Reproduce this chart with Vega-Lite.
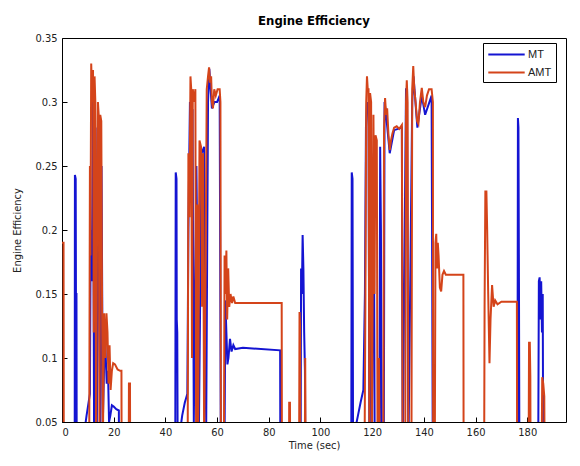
{
"$schema": "https://vega.github.io/schema/vega-lite/v6.json",
"width": 504, "height": 384,
"autosize": "none",
"padding": {"left": 62, "top": 38, "right": 14, "bottom": 44},
"background": "white",
"title": {"text": "Engine Efficiency", "font": "Liberation Sans Narrow, DejaVu Sans Condensed, sans-serif", "fontSize": 13, "fontWeight": "bold", "offset": 4, "anchor": "middle", "color": "black"},
"config": {
  "view": {"stroke": "black", "strokeWidth": 1},
  "axis": {"domain": false, "grid": false, "tickColor": "black", "tickSize": -5, "labelColor": "#222", "labelFont": "Liberation Sans Narrow, DejaVu Sans Condensed, sans-serif", "labelFontSize": 11, "titleFont": "Liberation Sans Narrow, DejaVu Sans Condensed, sans-serif", "titleFontSize": 11, "titleFontWeight": "normal", "titleColor": "#222"}
},
"data": {"values": [
{"s":"MT","t":0,"e":0},{"s":"MT","t":4.9,"e":0},{"s":"MT","t":5.0,"e":0.243},{"s":"MT","t":5.3,"e":0.24},{"s":"MT","t":5.4,"e":0.15},{"s":"MT","t":5.6,"e":0.15},{"s":"MT","t":5.7,"e":0},{"s":"MT","t":8.5,"e":0.04},{"s":"MT","t":9.5,"e":0.055},{"s":"MT","t":10.8,"e":0.072},{"s":"MT","t":11.1,"e":0.2},{"s":"MT","t":11.5,"e":0.16},{"s":"MT","t":12.0,"e":0.3},{"s":"MT","t":12.4,"e":0.05},{"s":"MT","t":13.0,"e":0.28},{"s":"MT","t":13.5,"e":0.05},{"s":"MT","t":14.2,"e":0.27},{"s":"MT","t":14.8,"e":0.05},{"s":"MT","t":15.3,"e":0.25},{"s":"MT","t":15.8,"e":0.05},{"s":"MT","t":16.6,"e":0.12},{"s":"MT","t":17.3,"e":0.08},{"s":"MT","t":17.8,"e":0.09},{"s":"MT","t":18.2,"e":0.05},{"s":"MT","t":18.7,"e":0.055},{"s":"MT","t":19.3,"e":0.063},{"s":"MT","t":20.0,"e":0.062},{"s":"MT","t":21.0,"e":0.06},{"s":"MT","t":22.0,"e":0.059},{"s":"MT","t":22.1,"e":0},
{"s":"MT","t":43.8,"e":0},{"s":"MT","t":44.0,"e":0.245},{"s":"MT","t":44.3,"e":0.24},{"s":"MT","t":44.4,"e":0.13},{"s":"MT","t":44.6,"e":0.12},{"s":"MT","t":44.8,"e":0},{"s":"MT","t":45.5,"e":0.04},{"s":"MT","t":46.5,"e":0.055},{"s":"MT","t":47.5,"e":0.065},{"s":"MT","t":48.5,"e":0.072},{"s":"MT","t":48.9,"e":0.2},{"s":"MT","t":49.5,"e":0.3},{"s":"MT","t":50.0,"e":0.295},{"s":"MT","t":50.5,"e":0.294},{"s":"MT","t":51.0,"e":0.05},{"s":"MT","t":52.0,"e":0.25},{"s":"MT","t":53.0,"e":0.05},{"s":"MT","t":54.0,"e":0.26},{"s":"MT","t":55.0,"e":0.265},{"s":"MT","t":55.3,"e":0.12},{"s":"MT","t":55.8,"e":0.05},{"s":"MT","t":56.5,"e":0.3},{"s":"MT","t":57.0,"e":0.326},{"s":"MT","t":57.5,"e":0.31},{"s":"MT","t":58.0,"e":0.295},{"s":"MT","t":59.0,"e":0.3},{"s":"MT","t":60.0,"e":0.3},{"s":"MT","t":61.0,"e":0.305},{"s":"MT","t":61.5,"e":0},{"s":"MT","t":62.8,"e":0},{"s":"MT","t":63.2,"e":0.145},{"s":"MT","t":63.6,"e":0.12},{"s":"MT","t":64.0,"e":0.095},{"s":"MT","t":64.4,"e":0.1},{"s":"MT","t":65.0,"e":0.115},{"s":"MT","t":65.6,"e":0.105},{"s":"MT","t":66.3,"e":0.11},{"s":"MT","t":67.0,"e":0.107},{"s":"MT","t":70.0,"e":0.108},{"s":"MT","t":84.4,"e":0.106},{"s":"MT","t":84.5,"e":0},
{"s":"MT","t":92.3,"e":0},{"s":"MT","t":92.5,"e":0.17},{"s":"MT","t":92.8,"e":0.15},{"s":"MT","t":93.1,"e":0.196},{"s":"MT","t":93.4,"e":0.17},{"s":"MT","t":93.7,"e":0.12},{"s":"MT","t":94.0,"e":0.09},{"s":"MT","t":94.2,"e":0},
{"s":"MT","t":111.9,"e":0},{"s":"MT","t":112.1,"e":0.245},{"s":"MT","t":112.4,"e":0.24},{"s":"MT","t":112.6,"e":0.045},{"s":"MT","t":113.5,"e":0.045},{"s":"MT","t":114.5,"e":0.055},{"s":"MT","t":115.5,"e":0.065},{"s":"MT","t":116.6,"e":0.075},{"s":"MT","t":117.2,"e":0.15},{"s":"MT","t":117.6,"e":0.28},{"s":"MT","t":118.0,"e":0.3},{"s":"MT","t":118.3,"e":0.294},{"s":"MT","t":118.6,"e":0.295},{"s":"MT","t":118.9,"e":0.05},{"s":"MT","t":119.2,"e":0.29},{"s":"MT","t":119.8,"e":0.02},{"s":"MT","t":120.6,"e":0.26},{"s":"MT","t":121.0,"e":0.02},{"s":"MT","t":122.8,"e":0.02},{"s":"MT","t":123.1,"e":0.265},{"s":"MT","t":123.4,"e":0.2},{"s":"MT","t":123.7,"e":0.02},{"s":"MT","t":124.5,"e":0.02},{"s":"MT","t":124.8,"e":0.3},{"s":"MT","t":125.4,"e":0.29},{"s":"MT","t":126.8,"e":0.26},{"s":"MT","t":128.5,"e":0.278},{"s":"MT","t":131.5,"e":0.28},{"s":"MT","t":131.8,"e":0.02},{"s":"MT","t":133.1,"e":0.31},{"s":"MT","t":133.5,"e":0.31},{"s":"MT","t":134.0,"e":0.02},{"s":"MT","t":135.5,"e":0.3},{"s":"MT","t":136.0,"e":0.32},{"s":"MT","t":137.5,"e":0.28},{"s":"MT","t":139.2,"e":0.305},{"s":"MT","t":140.5,"e":0.29},{"s":"MT","t":143.0,"e":0.305},{"s":"MT","t":143.5,"e":0},
{"s":"MT","t":176.2,"e":0},{"s":"MT","t":176.4,"e":0.2875},{"s":"MT","t":176.6,"e":0.28},{"s":"MT","t":176.8,"e":0.16},{"s":"MT","t":177.0,"e":0},
{"s":"MT","t":184.2,"e":0},{"s":"MT","t":184.5,"e":0.16},{"s":"MT","t":184.8,"e":0.163},{"s":"MT","t":185.1,"e":0.13},{"s":"MT","t":185.4,"e":0.16},{"s":"MT","t":185.7,"e":0.12},{"s":"MT","t":186.0,"e":0.15},{"s":"MT","t":186.2,"e":0},{"s":"MT","t":187.0,"e":0},
{"s":"AMT","t":0,"e":0.19},{"s":"AMT","t":0.6,"e":0.19},{"s":"AMT","t":0.7,"e":0},{"s":"AMT","t":10.5,"e":0},{"s":"AMT","t":10.8,"e":0.25},{"s":"AMT","t":11.0,"e":0.18},{"s":"AMT","t":11.3,"e":0.33},{"s":"AMT","t":11.7,"e":0.3},{"s":"AMT","t":12.0,"e":0.325},{"s":"AMT","t":12.3,"e":0.12},{"s":"AMT","t":12.6,"e":0.32},{"s":"AMT","t":12.9,"e":0.3},{"s":"AMT","t":13.2,"e":0.03},{"s":"AMT","t":13.6,"e":0.22},{"s":"AMT","t":13.9,"e":0.3},{"s":"AMT","t":14.2,"e":0.29},{"s":"AMT","t":14.5,"e":0.04},{"s":"AMT","t":14.8,"e":0.29},{"s":"AMT","t":15.2,"e":0.285},{"s":"AMT","t":15.5,"e":0.14},{"s":"AMT","t":15.8,"e":0.03},{"s":"AMT","t":16.3,"e":0.135},{"s":"AMT","t":16.8,"e":0.1},{"s":"AMT","t":17.2,"e":0.135},{"s":"AMT","t":17.6,"e":0.12},{"s":"AMT","t":18.0,"e":0.08},{"s":"AMT","t":18.4,"e":0.11},{"s":"AMT","t":18.8,"e":0.075},{"s":"AMT","t":19.3,"e":0.09},{"s":"AMT","t":19.8,"e":0.096},{"s":"AMT","t":20.5,"e":0.095},{"s":"AMT","t":21.5,"e":0.091},{"s":"AMT","t":22.5,"e":0.09},{"s":"AMT","t":23.0,"e":0.09},{"s":"AMT","t":23.1,"e":0},{"s":"AMT","t":25.8,"e":0},{"s":"AMT","t":25.9,"e":0.08},{"s":"AMT","t":26.3,"e":0.08},{"s":"AMT","t":26.4,"e":0},
{"s":"AMT","t":48.6,"e":0},{"s":"AMT","t":48.9,"e":0.26},{"s":"AMT","t":49.3,"e":0.21},{"s":"AMT","t":49.7,"e":0.32},{"s":"AMT","t":50.0,"e":0.31},{"s":"AMT","t":50.3,"e":0.1},{"s":"AMT","t":50.6,"e":0.31},{"s":"AMT","t":51.2,"e":0.3},{"s":"AMT","t":51.6,"e":0.31},{"s":"AMT","t":51.9,"e":0.03},{"s":"AMT","t":52.3,"e":0.22},{"s":"AMT","t":52.7,"e":0.05},{"s":"AMT","t":53.2,"e":0.27},{"s":"AMT","t":53.8,"e":0.265},{"s":"AMT","t":54.2,"e":0.14},{"s":"AMT","t":54.6,"e":0.26},{"s":"AMT","t":55.0,"e":0.03},{"s":"AMT","t":55.6,"e":0.18},{"s":"AMT","t":56.0,"e":0.31},{"s":"AMT","t":56.5,"e":0.32},{"s":"AMT","t":56.9,"e":0.327},{"s":"AMT","t":57.3,"e":0.315},{"s":"AMT","t":57.7,"e":0.32},{"s":"AMT","t":58.0,"e":0.3},{"s":"AMT","t":58.4,"e":0.295},{"s":"AMT","t":58.9,"e":0.31},{"s":"AMT","t":59.5,"e":0.305},{"s":"AMT","t":60.2,"e":0.31},{"s":"AMT","t":61.0,"e":0.31},{"s":"AMT","t":61.3,"e":0.3},{"s":"AMT","t":61.5,"e":0},{"s":"AMT","t":62.6,"e":0},{"s":"AMT","t":62.9,"e":0.18},{"s":"AMT","t":63.3,"e":0.15},{"s":"AMT","t":63.6,"e":0.184},{"s":"AMT","t":63.9,"e":0.13},{"s":"AMT","t":64.3,"e":0.17},{"s":"AMT","t":64.7,"e":0.14},{"s":"AMT","t":65.2,"e":0.15},{"s":"AMT","t":65.8,"e":0.143},{"s":"AMT","t":66.3,"e":0.148},{"s":"AMT","t":67.0,"e":0.143},{"s":"AMT","t":85.0,"e":0.143},{"s":"AMT","t":85.1,"e":0},
{"s":"AMT","t":87.8,"e":0},{"s":"AMT","t":87.9,"e":0.065},{"s":"AMT","t":88.2,"e":0.065},{"s":"AMT","t":88.3,"e":0},{"s":"AMT","t":91.7,"e":0},{"s":"AMT","t":91.9,"e":0.136},{"s":"AMT","t":92.1,"e":0.125},{"s":"AMT","t":92.2,"e":0},{"s":"AMT","t":93.9,"e":0},{"s":"AMT","t":94.1,"e":0.1},{"s":"AMT","t":94.3,"e":0},
{"s":"AMT","t":117.0,"e":0},{"s":"AMT","t":117.4,"e":0.15},{"s":"AMT","t":117.7,"e":0.3},{"s":"AMT","t":118.0,"e":0.32},{"s":"AMT","t":118.3,"e":0.31},{"s":"AMT","t":118.6,"e":0.31},{"s":"AMT","t":118.9,"e":0.05},{"s":"AMT","t":119.2,"e":0.307},{"s":"AMT","t":119.6,"e":0.3},{"s":"AMT","t":119.9,"e":0.02},{"s":"AMT","t":120.5,"e":0.29},{"s":"AMT","t":120.9,"e":0.15},{"s":"AMT","t":121.3,"e":0.274},{"s":"AMT","t":121.8,"e":0.27},{"s":"AMT","t":122.1,"e":0.02},{"s":"AMT","t":122.6,"e":0.1},{"s":"AMT","t":123.0,"e":0.02},{"s":"AMT","t":124.3,"e":0.02},{"s":"AMT","t":124.6,"e":0.28},{"s":"AMT","t":125.0,"e":0.303},{"s":"AMT","t":125.4,"e":0.29},{"s":"AMT","t":125.8,"e":0.295},{"s":"AMT","t":126.3,"e":0.275},{"s":"AMT","t":126.8,"e":0.2625},{"s":"AMT","t":127.3,"e":0.27},{"s":"AMT","t":127.8,"e":0.275},{"s":"AMT","t":128.5,"e":0.28},{"s":"AMT","t":129.5,"e":0.281},{"s":"AMT","t":130.5,"e":0.279},{"s":"AMT","t":131.5,"e":0.282},{"s":"AMT","t":131.8,"e":0.02},{"s":"AMT","t":132.8,"e":0.02},{"s":"AMT","t":133.1,"e":0.3},{"s":"AMT","t":133.4,"e":0.317},{"s":"AMT","t":133.7,"e":0.3},{"s":"AMT","t":134.0,"e":0.02},{"s":"AMT","t":135.2,"e":0.02},{"s":"AMT","t":135.5,"e":0.31},{"s":"AMT","t":135.9,"e":0.328},{"s":"AMT","t":136.3,"e":0.31},{"s":"AMT","t":136.8,"e":0.3},{"s":"AMT","t":137.4,"e":0.285},{"s":"AMT","t":137.9,"e":0.283},{"s":"AMT","t":138.5,"e":0.3},{"s":"AMT","t":139.2,"e":0.311},{"s":"AMT","t":139.8,"e":0.3},{"s":"AMT","t":140.5,"e":0.296},{"s":"AMT","t":141.2,"e":0.305},{"s":"AMT","t":142.0,"e":0.31},{"s":"AMT","t":143.0,"e":0.31},{"s":"AMT","t":143.5,"e":0.3},{"s":"AMT","t":143.6,"e":0},{"s":"AMT","t":144.2,"e":0},{"s":"AMT","t":144.5,"e":0.19},{"s":"AMT","t":144.8,"e":0.197},{"s":"AMT","t":145.1,"e":0.17},{"s":"AMT","t":145.4,"e":0.19},{"s":"AMT","t":145.7,"e":0.18},{"s":"AMT","t":146.2,"e":0.155},{"s":"AMT","t":146.7,"e":0.152},{"s":"AMT","t":147.2,"e":0.165},{"s":"AMT","t":147.8,"e":0.168},{"s":"AMT","t":148.5,"e":0.165},{"s":"AMT","t":155.3,"e":0.165},{"s":"AMT","t":155.4,"e":0},
{"s":"AMT","t":163.3,"e":0},{"s":"AMT","t":163.5,"e":0.14},{"s":"AMT","t":163.8,"e":0.23},{"s":"AMT","t":164.2,"e":0.23},{"s":"AMT","t":164.5,"e":0.2},{"s":"AMT","t":164.9,"e":0.15},{"s":"AMT","t":165.4,"e":0.096},{"s":"AMT","t":165.8,"e":0.13},{"s":"AMT","t":166.4,"e":0.157},{"s":"AMT","t":167.0,"e":0.14},{"s":"AMT","t":167.6,"e":0.145},{"s":"AMT","t":168.5,"e":0.142},{"s":"AMT","t":170.0,"e":0.144},{"s":"AMT","t":176.0,"e":0.144},{"s":"AMT","t":176.1,"e":0},
{"s":"AMT","t":180.5,"e":0},{"s":"AMT","t":180.7,"e":0.112},{"s":"AMT","t":181.0,"e":0.112},{"s":"AMT","t":181.2,"e":0.085},{"s":"AMT","t":181.3,"e":0},{"s":"AMT","t":185.5,"e":0},{"s":"AMT","t":185.8,"e":0.085},{"s":"AMT","t":186.2,"e":0.08},{"s":"AMT","t":186.6,"e":0.07},{"s":"AMT","t":186.8,"e":0}
]},
"encoding": {
  "x": {"field": "t", "type": "quantitative", "scale": {"domain": [0, 195], "nice": false, "zero": false},
        "axis": {"values": [0,20,40,60,80,100,120,140,160,180], "title": "Time (sec)", "labelPadding": 9, "titlePadding": 2}},
  "y": {"field": "e", "type": "quantitative", "scale": {"domain": [0.05, 0.35], "nice": false, "zero": false},
        "axis": {"values": [0.05,0.1,0.15,0.2,0.25,0.3,0.35], "format": ".2~f", "title": "Engine Efficiency", "labelPadding": 10, "titlePadding": 12}},
  "color": {"field": "s", "type": "nominal", "scale": {"domain": ["MT","AMT"], "range": ["#1414d2","#d4441a"]},
            "legend": {"orient": "none", "legendX": 421, "legendY": 5, "title": null, "strokeColor": "black", "fillColor": "white", "padding": 4, "symbolType": "M-2.8,0H2.8", "symbolSize": 169, "symbolOffset": 12, "symbolStrokeWidth": 2, "labelFontSize": 11, "labelFont": "Liberation Sans", "labelColor": "#222", "rowPadding": 5, "labelOffset": 14}}
},
"layer": [
  {"transform": [{"filter": "datum.s === 'MT'"}], "mark": {"type": "line", "clip": true, "strokeWidth": 2}},
  {"transform": [{"filter": "datum.s === 'AMT'"}], "mark": {"type": "line", "clip": true, "strokeWidth": 2}}
]
}
